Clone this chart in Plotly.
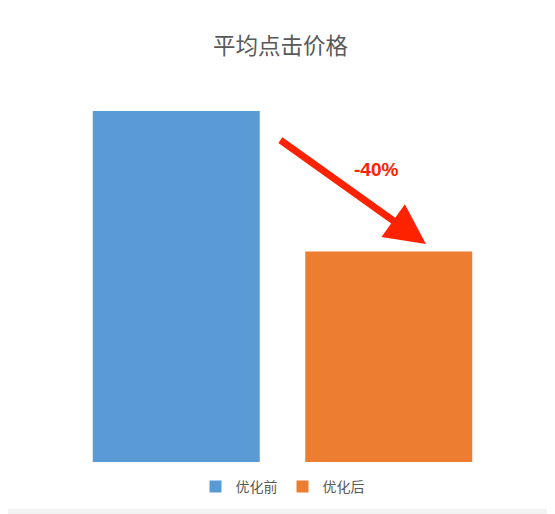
import plotly.graph_objects as go

# data
categories = ["优化前", "优化后"]
avg_click_price = [100, 60]
bar_colors = ["#5B9BD5", "#ED7D31"]
change_label = "-40%"

fig = go.Figure()

for cat, val, col in zip(categories, avg_click_price, bar_colors):
    fig.add_trace(go.Bar(x=[cat], y=[val], name=cat,
                         marker=dict(color=col, line=dict(width=0))))

# white card on light grey page
fig.add_shape(type="rect", xref="paper", yref="paper",
              x0=-0.148, x1=1.136, y0=-0.134, y1=1.313,
              fillcolor="white", line=dict(width=0), layer="below")

# red arrow from first bar to second
fig.add_annotation(x=1.175, y=62.1, ax=0.483, ay=92.0,
                   xref="x", yref="y", axref="x", ayref="y",
                   text="", showarrow=True, arrowhead=2, arrowsize=1.15,
                   arrowwidth=7, arrowcolor="#FF2200", standoff=0)
fig.add_annotation(x=0.94, y=83.2, xref="x", yref="y", text="<b>" + change_label + "</b>",
                   showarrow=False,
                   font=dict(family="Liberation Sans, Arial", size=19, color="#FF2200"))

# page body adds 8px offset, margins compensate
fig.update_layout(
    width=555, height=514,
    margin=dict(l=62, r=68, t=103, b=60),
    paper_bgcolor="#F2F2F2",
    plot_bgcolor="rgba(0,0,0,0)",
    title=dict(text="平均点击价格", x=272.5 / 555, xanchor="center", y=1 - 38 / 514, yanchor="middle",
               font=dict(family="Noto Sans CJK SC", size=22.5, color="#595959")),
    bargap=0.214,
    showlegend=True,
    legend=dict(orientation="h", x=0.5, xanchor="center", y=-0.071, yanchor="middle",
                font=dict(family="Noto Sans CJK SC", size=14, color="#595959"),
                bgcolor="rgba(0,0,0,0)", itemwidth=30),
    xaxis=dict(visible=False, range=[-0.5, 1.5]),
    yaxis=dict(visible=False, range=[0, 100]),
)

fig.write_html("out.html")
